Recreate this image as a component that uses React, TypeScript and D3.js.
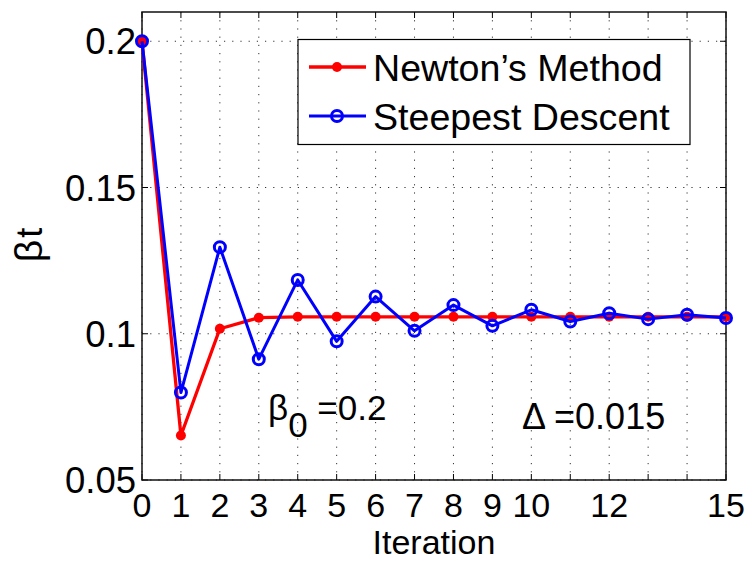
import React from "react";
import * as d3 from "d3";

const iterations = [0, 1, 2, 3, 4, 5, 6, 7, 8, 9, 10, 11, 12, 13, 14, 15];
const newton = [0.2, 0.0652, 0.1017, 0.1055, 0.1058, 0.1058, 0.1058, 0.1058, 0.1058, 0.1058, 0.1058, 0.1058, 0.1058, 0.1058, 0.1058, 0.1058];
const steepest = [0.2, 0.0799, 0.1296, 0.0913, 0.1184, 0.0974, 0.1127, 0.101, 0.1098, 0.1027, 0.1082, 0.1042, 0.107, 0.105, 0.1065, 0.1054];
const xTickLabels = [0, 1, 2, 3, 4, 5, 6, 7, 8, 9, 10, 12, 15];
const yTicks = [0.05, 0.1, 0.15, 0.2];
const seriesNames = ["Newton\u2019s Method", "Steepest Descent"];

const W = 751, H = 561;
const left = 142, right = 726, top = 12, bottom = 480;
const FONT = "'Liberation Sans', Arial, Helvetica, sans-serif";

export default function App() {
  const x = d3.scaleLinear().domain([0, 15]).range([left, right]);
  const y = d3.scaleLinear().domain([0.05, 0.21]).range([bottom, top]);
  const line = d3.line<number>().x((_, i) => x(iterations[i])).y((d) => y(d));
  const dash = "1.2,7";
  return (
    <svg width={W} height={H} style={{ position: "absolute", left: 0, top: 0, background: "#fff" }} fontFamily={FONT}>
      <rect x={0} y={0} width={W} height={H} fill="#fff" />
      {/* grid */}
      {iterations.map((t) => (
        <line key={"gx" + t} x1={x(t)} x2={x(t)} y1={top} y2={bottom} stroke="#333" strokeWidth={1} strokeDasharray={dash} />
      ))}
      {yTicks.map((t) => (
        <line key={"gy" + t} x1={left} x2={right} y1={y(t)} y2={y(t)} stroke="#333" strokeWidth={1} strokeDasharray={dash} />
      ))}
      {/* ticks */}
      {iterations.map((t) => (
        <g key={"tx" + t}>
          <line x1={x(t)} x2={x(t)} y1={bottom} y2={bottom - 6} stroke="#000" strokeWidth={1} />
          <line x1={x(t)} x2={x(t)} y1={top} y2={top + 6} stroke="#000" strokeWidth={1} />
        </g>
      ))}
      {yTicks.map((t) => (
        <g key={"ty" + t}>
          <line x1={left} x2={left + 6} y1={y(t)} y2={y(t)} stroke="#000" strokeWidth={1} />
          <line x1={right} x2={right - 6} y1={y(t)} y2={y(t)} stroke="#000" strokeWidth={1} />
        </g>
      ))}
      {/* box */}
      <rect x={left} y={top} width={right - left} height={bottom - top} fill="none" stroke="#111" strokeWidth={1.5} />
      {/* tick labels */}
      {yTicks.map((t) => (
        <text key={"ly" + t} x={left - 6} y={y(t)} dy="0.36em" textAnchor="end" fontSize={36.5}>
          {String(t)}
        </text>
      ))}
      {xTickLabels.map((t) => (
        <text key={"lx" + t} x={x(t)} y={516.5} textAnchor="middle" fontSize={34}>
          {String(t)}
        </text>
      ))}
      <text x={(left + right) / 2} y={553.5} textAnchor="middle" fontSize={34}>Iteration</text>
      <text transform={`translate(42,245) rotate(-90)`} textAnchor="middle" fontSize={36}>
        <tspan fontSize={39}>β</tspan><tspan dx={2}>t</tspan>
      </text>
      {/* annotations */}
      <text x={268} y={420} fontSize={35}>
        β<tspan dy={17} fontSize={35}>0</tspan><tspan dy={-17}> =0.2</tspan>
      </text>
      <text x={522} y={429} fontSize={36}>Δ =0.015</text>
      {/* series */}
      <path d={line(newton) || ""} fill="none" stroke="#ff0000" strokeWidth={3.3} strokeLinejoin="round" />
      {newton.map((v, i) => (
        <circle key={"n" + i} cx={x(iterations[i])} cy={y(v)} r={5} fill="#ff0000" />
      ))}
      <path d={line(steepest) || ""} fill="none" stroke="#0000ff" strokeWidth={3} strokeLinejoin="round" />
      {steepest.map((v, i) => (
        <circle key={"s" + i} cx={x(iterations[i])} cy={y(v)} r={5.5} fill="none" stroke="#0000ff" strokeWidth={3} />
      ))}
      {/* legend */}
      <rect x={298} y={39.5} width={392} height={105} fill="#fff" stroke="#000" strokeWidth={1.2} />
      <line x1={309} x2={366} y1={67} y2={67} stroke="#ff0000" strokeWidth={3.3} />
      <circle cx={337} cy={67} r={5} fill="#ff0000" />
      <text x={373} y={81} fontSize={37.6}>{seriesNames[0]}</text>
      <line x1={309} x2={366} y1={116} y2={116} stroke="#0000ff" strokeWidth={3} />
      <circle cx={337} cy={116} r={5.5} fill="none" stroke="#0000ff" strokeWidth={3} />
      <text x={373} y={130} fontSize={37.6}>{seriesNames[1]}</text>
    </svg>
  );
}
